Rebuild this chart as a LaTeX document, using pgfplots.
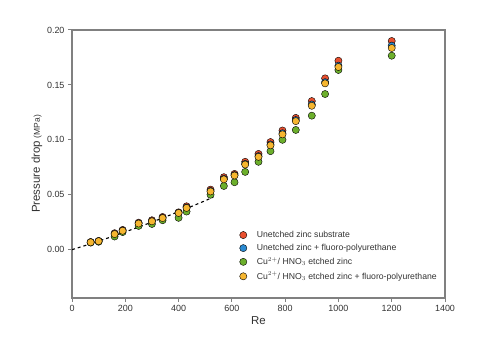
\documentclass[border=0pt]{standalone}
\usepackage{fontspec}
\setmainfont{Liberation Sans}
\usepackage{pgfplots}
\pgfplotsset{compat=1.18}
\definecolor{cred}{HTML}{E8502F}
\definecolor{cblue}{HTML}{2A8AD2}
\definecolor{cgreen}{HTML}{6CAF2C}
\definecolor{cyell}{HTML}{F6B630}
\definecolor{axgray}{HTML}{808080}
\definecolor{txtgray}{HTML}{333333}
\begin{document}
\begin{tikzpicture}
\path[use as bounding box] (0,0) rectangle (481bp,352bp);
\begin{axis}[
  at={(72bp,54bp)}, anchor=south west,
  scale only axis, width=373bp, height=268bp,
  xmin=0, xmax=1400, ymin=-0.044, ymax=0.2,
  xtick={0,200,...,1400},
  ytick={0,0.05,0.1,0.15,0.2},
  xticklabel style={/pgf/number format/.cd,set thousands separator={}},
  yticklabel style={/pgf/number format/.cd,fixed,fixed zerofill,precision=2},
  /pgf/number format/assume math mode=true,
  scaled y ticks=false,
  tick pos=left,
  tick align=outside,
  major tick length=4bp,
  axis line style={axgray, line width=1.2bp},
  every tick/.style={axgray, line width=1bp},
  tick label style={font=\fontsize{9}{10}\selectfont, text=txtgray},
  xlabel={Re},
  xlabel style={font=\fontsize{11.5}{12}\selectfont, text=txtgray, yshift=2bp},
  ylabel={{\fontsize{11.5}{12}\selectfont Pressure drop} {\fontsize{8.5}{10}\selectfont (MPa)}},
  ylabel style={text=txtgray, yshift=-2bp},
  legend style={draw=none, fill=none, at={(0.441,0.265)}, anchor=north west,
    font=\fontsize{8.7}{9}\selectfont, row sep=1.3bp, text=txtgray,
    /tikz/every odd column/.append style={column sep=8bp}},
  legend cell align=left,
  legend image code/.code={\draw[#1] plot coordinates {(0.3cm,0cm)};},
  every axis plot/.append style={only marks, mark=*, mark size=3.6bp, mark options={draw=black!70!brown, line width=0.6bp}},
]
\addplot[mark options={fill=cred}] coordinates {
(70,0.0070) (100,0.0080) (160,0.0150) (190,0.0180) (250,0.0246) (300,0.0268)
(340,0.0298) (400,0.0340) (430,0.0395) (520,0.0547) (570,0.0660) (610,0.0690)
(650,0.0800) (700,0.0872) (745,0.0980) (790,0.1085) (840,0.1200) (900,0.1353)
(950,0.1560) (1000,0.1720) (1200,0.1900)};
\addlegendentry{Unetched zinc substrate}
\addplot[mark options={fill=cblue}] coordinates {
(70,0.0068) (100,0.0078) (160,0.0144) (190,0.0174) (250,0.0240) (300,0.0260)
(340,0.0290) (400,0.0336) (430,0.0384) (520,0.0535) (570,0.0645) (610,0.0679)
(650,0.0781) (700,0.0852) (745,0.0958) (790,0.1060) (840,0.1180) (900,0.1322)
(950,0.1525) (1000,0.1675) (1200,0.1858)};
\addlegendentry{Unetched zinc + fluoro-polyurethane}
\addplot[mark options={fill=cgreen}] coordinates {
(70,0.0064) (100,0.0072) (160,0.0120) (190,0.0160) (250,0.0216) (300,0.0234)
(340,0.0268) (400,0.0290) (430,0.0347) (520,0.0500) (570,0.0580) (610,0.0614)
(650,0.0708) (700,0.0800) (745,0.0897) (790,0.1000) (840,0.1090) (900,0.1220)
(950,0.1417) (1000,0.1636) (1200,0.1766)};
\addlegendentry{Cu$^{2+}$/ HNO$_3$ etched zinc}
\addplot[mark options={fill=cyell}] coordinates {
(70,0.0067) (100,0.0077) (160,0.0142) (190,0.0172) (250,0.0238) (300,0.0258)
(340,0.0288) (400,0.0334) (430,0.0380) (520,0.0530) (570,0.0640) (610,0.0675)
(650,0.0775) (700,0.0845) (745,0.0950) (790,0.1050) (840,0.1170) (900,0.1310)
(950,0.1514) (1000,0.1663) (1200,0.1836)};
\addlegendentry{Cu$^{2+}$/ HNO$_3$ etched zinc + fluoro-polyurethane}
\addplot[no marks, sharp plot, black, dashed, line width=1.1bp, forget plot] coordinates {
(0,0) (50,0.0038) (100,0.0078) (150,0.0119) (200,0.0162) (250,0.0206)
(300,0.0251) (350,0.0298) (400,0.0346) (450,0.0395) (500,0.0446) (530,0.0478)};
\end{axis}
\end{tikzpicture}
\end{document}
